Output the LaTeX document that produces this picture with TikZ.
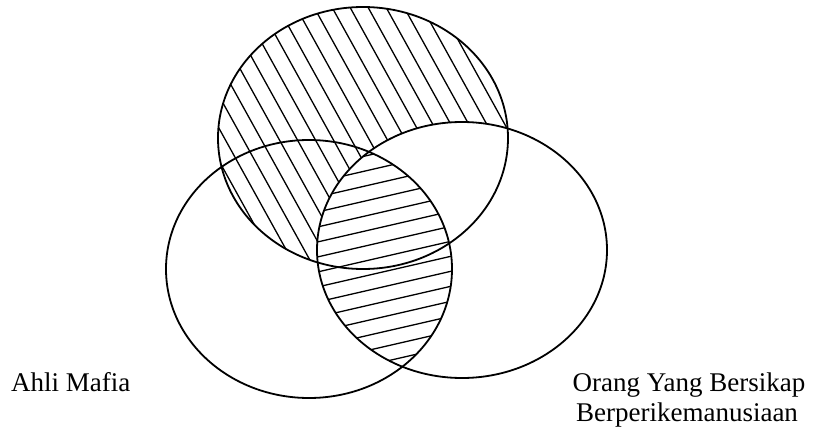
\documentclass[tikz,border=0pt]{standalone}
\usepackage{fontspec}
\setmainfont{Liberation Serif}
\begin{document}
\begin{tikzpicture}[x=1pt,y=-1pt,
  outline/.style={line width=1.8pt},
  hatch/.style={line width=1.3pt},
  lbl/.style={font=\fontsize{27}{30}\selectfont, inner sep=0pt}]
\useasboundingbox (0,0) rectangle (828,433);
\fill[white] (0,0) rectangle (828,433);
\def\topE{(363,138) ellipse [x radius=145pt, y radius=131pt]}
\def\leftE{(309,269) ellipse [x radius=143pt, y radius=129pt]}
\def\rightE{(462,250) ellipse [x radius=145pt, y radius=128pt]}
% diagonal hatching: top set minus right set
\begin{scope}
  \clip \topE;
  \foreach \c in {40,58,...,540} \draw[hatch] (\c,0) -- ({\c+249},450);
  \fill[white] \rightE;
\end{scope}
% near-horizontal hatching: left set intersect right set
\begin{scope}
  \clip \leftE;
  \clip \rightE;
  \foreach \k in {240,255,...,520} \draw[hatch] (290,{\k-0.23*290}) -- (490,{\k-0.23*490});
\end{scope}
% outlines
\draw[outline] \topE;
\draw[outline] \leftE;
\draw[outline] \rightE;
% labels
\node[lbl, anchor=base west] (ahli) at (11,391) {Ahli Mafia};
\node[lbl, anchor=base] (orang) at (689,391) {Orang Yang Bersikap};
\node[lbl, anchor=base] (berper) at (687,421) {Berperikemanusiaan};
\end{tikzpicture}
\end{document}
